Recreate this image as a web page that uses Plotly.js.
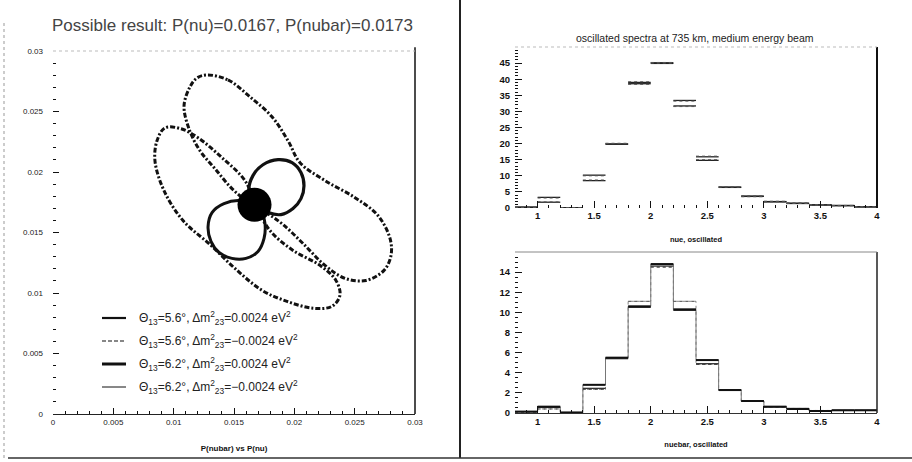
<!DOCTYPE html>
<html><head><meta charset="utf-8">
<script src="https://cdn.plot.ly/plotly-3.0.1.min.js"></script>
<style>html,body{margin:0;padding:0;background:#fff;}#chart{width:912px;height:462px;}</style>
</head><body><div id="chart"></div>
<script>
// ---------- Left panel: P(nubar) vs P(nu) ----------
const measuredNu    = [0.0167];
const measuredNubar = [0.0173];

// theta13 = 5.6 deg, dm2 = +0.0024 (small loop, lower-left of point)
const c1_nu    = [0.01682,0.01550,0.01417,0.01318,0.01285,0.01309,0.01376,0.01483,0.01599,0.01699,0.01749,0.01757,0.01732,0.01682];
const c1_nubar = [0.01723,0.01764,0.01739,0.01665,0.01549,0.01426,0.01335,0.01286,0.01286,0.01343,0.01451,0.01574,0.01665,0.01723];
// theta13 = 5.6 deg, dm2 = -0.0024 (long ellipse, lower-left)
const c2_nu    = [0.00928,0.01061,0.01202,0.01401,0.01591,0.01682,0.01798,0.01989,0.02213,0.02345,0.02378,0.02312,0.02155,0.01939,0.01732,0.01508,0.01301,0.01077,0.00920,0.00845,0.00862,0.00928];
const c2_nubar = [0.02365,0.02357,0.02283,0.02118,0.01929,0.01723,0.01516,0.01352,0.01228,0.01104,0.00981,0.00890,0.00874,0.00931,0.01022,0.01203,0.01401,0.01599,0.01846,0.02093,0.02258,0.02365];
// theta13 = 6.2 deg, dm2 = +0.0024 (small loop, upper-right of point)
const c3_nu    = [0.01682,0.01624,0.01657,0.01740,0.01865,0.01981,0.02055,0.02080,0.02055,0.01989,0.01889,0.01782,0.01682];
const c3_nubar = [0.01723,0.01846,0.01970,0.02060,0.02102,0.02077,0.01995,0.01887,0.01780,0.01698,0.01648,0.01665,0.01723];
// theta13 = 6.2 deg, dm2 = -0.0024 (long ellipse, upper-right)
const c4_nu    = [0.01276,0.01450,0.01633,0.01815,0.01948,0.02047,0.02254,0.02503,0.02693,0.02793,0.02801,0.02743,0.02594,0.02420,0.02254,0.02072,0.01906,0.01765,0.01633,0.01483,0.01343,0.01218,0.01127,0.01086,0.01135,0.01193,0.01276];
const c4_nubar = [0.02802,0.02761,0.02621,0.02456,0.02258,0.02077,0.01929,0.01788,0.01640,0.01451,0.01310,0.01187,0.01104,0.01121,0.01228,0.01409,0.01566,0.01665,0.01739,0.01863,0.02027,0.02176,0.02357,0.02547,0.02703,0.02777,0.02802];

const probTicks  = [0, 0.005, 0.01, 0.015, 0.02, 0.025, 0.03];
const probLabels = ['0', '0.005', '0.01', '0.015', '0.02', '0.025', '0.03'];

const legendLabels = [
  'Θ<sub>13</sub>=5.6°, Δm<sup>2</sup><sub>23</sub>=0.0024 eV<sup>2</sup>',
  'Θ<sub>13</sub>=5.6°, Δm<sup>2</sup><sub>23</sub>=−0.0024 eV<sup>2</sup>',
  'Θ<sub>13</sub>=6.2°, Δm<sup>2</sup><sub>23</sub>=0.0024 eV<sup>2</sup>',
  'Θ<sub>13</sub>=6.2°, Δm<sup>2</sup><sub>23</sub>=−0.0024 eV<sup>2</sup>'
];

// ---------- Right panels: oscillated spectra ----------
const binEdges = [0.8,1.0,1.2,1.4,1.6,1.8,2.0,2.2,2.4,2.6,2.8,3.0,3.2,3.4,3.6,3.8,4.0];
const nueA = [0.3, 3.3, 0.1, 10.2, 19.9, 39.0, 45.1, 33.4, 15.9, 6.5, 3.7, 2.0, 1.5, 1.0, 0.8, 0.4];
const nueB = [0.2, 1.8, 0.1,  8.5, 19.8, 38.6, 44.9, 31.7, 14.8, 6.4, 3.6, 1.9, 1.4, 0.9, 0.7, 0.3];
const nueC = [0.3, 3.1, 0.1, 10.0, 20.1, 39.2, 45.2, 33.2, 16.1, 6.6, 3.8, 2.1, 1.6, 1.0, 0.8, 0.4];
const nueD = [0.2, 1.9, 0.1,  8.7, 20.0, 38.4, 45.0, 31.5, 15.0, 6.5, 3.5, 1.9, 1.4, 0.9, 0.7, 0.3];

const nubarA = [0.13, 0.63, 0.05, 2.80, 5.50, 10.6, 14.8, 10.3, 5.26, 2.28, 1.19, 0.63, 0.40, 0.20, 0.27, 0.27];
const nubarB = [0.10, 0.40, 0.03, 2.35, 5.45, 11.1, 14.5, 11.1, 4.83, 2.30, 1.15, 0.60, 0.45, 0.25, 0.25, 0.25];
const nubarC = [0.15, 0.55, 0.05, 2.45, 5.40, 10.5, 14.6, 10.2, 4.90, 2.30, 1.20, 0.60, 0.45, 0.20, 0.27, 0.27];

const energyTicks  = [1, 1.5, 2, 2.5, 3, 3.5, 4];
const energyLabels = ['1', '1.5', '2', '2.5', '3', '3.5', '4'];
const nueTicks   = [0, 5, 10, 15, 20, 25, 30, 35, 40, 45];
const nubarTicks = [0, 2, 4, 6, 8, 10, 12, 14];

// ---------- helpers ----------
function segs(vals){ const x=[],y=[]; vals.forEach((v,i)=>{x.push(binEdges[i],binEdges[i+1],null);y.push(v,v,null);}); return {x,y}; }
function steps(vals){ return {x: binEdges.slice(), y: vals.concat([vals[vals.length-1]])}; }
const W=912, H=462;
const PX = x => x/W, PY = y => 1 - y/H;
const FAM = 'Liberation Sans, Arial, sans-serif';

const traces = [];
function curve(xs, ys, dash, width){
  traces.push({type:'scatter', mode:'lines', x:xs, y:ys, xaxis:'x', yaxis:'y',
    line:{color:'#111', width:width, dash:dash, shape:'spline', smoothing:1}, hoverinfo:'skip', showlegend:false});
}
curve(c1_nu, c1_nubar, 'solid', 3);
curve(c2_nu, c2_nubar, '5px,2px,2px,2px', 3);
curve(c3_nu, c3_nubar, 'solid', 3.2);
curve(c4_nu, c4_nubar, '5px,2px,2px,2px', 3);
traces.push({type:'scatter', mode:'markers', x:measuredNu, y:measuredNubar, xaxis:'x', yaxis:'y',
  marker:{color:'#000', size:34}, showlegend:false, hoverinfo:'skip'});

const topStyles = [
  [nueA, {color:'#222', width:1.3}],
  [nueB, {color:'#222', width:1.3}],
  [nueC, {color:'#555', width:1, dash:'dot'}],
  [nueD, {color:'#555', width:1, dash:'dot'}]
];
topStyles.forEach(([v, ln]) => { const s = segs(v);
  traces.push({type:'scatter', mode:'lines', x:s.x, y:s.y, xaxis:'x2', yaxis:'y2', line:ln, connectgaps:false, showlegend:false, hoverinfo:'skip'}); });

// bottom: thin step connectors + horizontal bin tops
[[nubarA, {color:'#666', width:0.9, shape:'hv'}], [nubarB, {color:'#777', width:0.9, dash:'dot', shape:'hv'}]].forEach(([v, ln]) => {
  const s = steps(v);
  traces.push({type:'scatter', mode:'lines', x:s.x, y:s.y, xaxis:'x3', yaxis:'y3', line:ln, showlegend:false, hoverinfo:'skip'}); });
[[nubarB, {color:'#444', width:1, dash:'dot'}], [nubarC, {color:'#333', width:1.3}], [nubarA, {color:'#111', width:2}]].forEach(([v, ln]) => {
  const s = segs(v);
  traces.push({type:'scatter', mode:'lines', x:s.x, y:s.y, xaxis:'x3', yaxis:'y3', line:ln, connectgaps:false, showlegend:false, hoverinfo:'skip'}); });

const smallFont = {family:FAM, size:8, color:'#222'};
const boldFont  = {family:FAM, size:9.5, color:'#111', weight:'bold'};
const common = {showgrid:false, zeroline:false, ticks:'inside', tickcolor:'#111', tickwidth:1, fixedrange:true};

const layout = {
  width:W, height:H, margin:{l:0,r:0,t:0,b:0}, paper_bgcolor:'#fff', plot_bgcolor:'rgba(0,0,0,0)',
  showlegend:false,
  xaxis: Object.assign({}, common, {domain:[53/W, 415/W], range:[0,0.03], anchor:'y', tickmode:'array',
    tickvals:probTicks, ticktext:probLabels, ticklen:6, tickfont:smallFont, showline:true, linecolor:'#222', linewidth:1,
    minor:{ticks:'inside', dtick:0.001, tick0:0, ticklen:3, tickcolor:'#111'},
    title:{text:'<b>P(nubar) vs P(nu)</b>', font:{family:FAM, size:8, color:'#111'}, standoff:19}}),
  yaxis: Object.assign({}, common, {domain:[1-414/H, 1-51/H], range:[0,0.03], anchor:'x', tickmode:'array',
    tickvals:probTicks, ticktext:probLabels, ticklen:6, tickfont:smallFont, showline:false, ticklabelstandoff:9,
    minor:{ticks:'inside', dtick:0.001, tick0:0, ticklen:3, tickcolor:'#111'}}),
  xaxis2: Object.assign({}, common, {domain:[515/W, 877/W], range:[0.8,4], anchor:'y2', tickmode:'array',
    tickvals:energyTicks, ticktext:energyLabels, ticklen:7, tickfont:boldFont, showline:false,
    minor:{ticks:'inside', dtick:0.1, tick0:0, ticklen:3, tickcolor:'#111'},
    title:{text:'<b>nue, oscillated</b>', font:{family:FAM, size:7.5, color:'#111'}, standoff:17}}),
  yaxis2: Object.assign({}, common, {domain:[1-208/H, 1-47/H], range:[0,50], anchor:'x2', tickmode:'array',
    tickvals:nueTicks, ticklen:7, tickfont:boldFont, showline:false, ticklabelstandoff:4,
    minor:{ticks:'inside', dtick:1, tick0:0, ticklen:3, tickcolor:'#111'}}),
  xaxis3: Object.assign({}, common, {domain:[515/W, 877/W], range:[0.8,4], anchor:'y3', tickmode:'array',
    tickvals:energyTicks, ticktext:energyLabels, ticklen:7, tickfont:boldFont, showline:true, linecolor:'#333', linewidth:1,
    minor:{ticks:'inside', dtick:0.1, tick0:0, ticklen:3, tickcolor:'#111'},
    title:{text:'<b>nuebar, oscillated</b>', font:{family:FAM, size:7.5, color:'#111'}, standoff:15}}),
  yaxis3: Object.assign({}, common, {domain:[1-413/H, 1-252/H], range:[0,16], anchor:'x3', tickmode:'array',
    tickvals:nubarTicks, ticklen:7, tickfont:boldFont, showline:false, ticklabelstandoff:4,
    minor:{ticks:'inside', dtick:0.5, tick0:0, ticklen:3, tickcolor:'#111'}}),
  annotations: [
    {text:'Possible result: P(nu)=0.0167, P(nubar)=0.0173', xref:'paper', yref:'paper', x:PX(232), y:PY(25),
     xanchor:'center', yanchor:'middle', showarrow:false, font:{family:FAM, size:17, color:'#444'}},
    {text:'oscillated spectra at 735 km, medium energy beam', xref:'paper', yref:'paper', x:PX(695), y:PY(38),
     xanchor:'center', yanchor:'middle', showarrow:false, font:{family:FAM, size:10.5, color:'#222'}}
  ].concat(legendLabels.map((t,i)=>({text:t, xref:'paper', yref:'paper', x:PX(137), y:PY(318+23*i),
     xanchor:'left', yanchor:'middle', showarrow:false, font:{family:FAM, size:12, color:'#222'}}))),
  shapes: [
    {type:'line', xref:'x domain', yref:'y domain', x0:1, x1:1, y0:0, y1:1.01, line:{color:'#111', width:1.5}},
    {type:'line', xref:'x domain', yref:'y domain', x0:0, x1:1, y0:1, y1:1, line:{color:'#bbb', width:1, dash:'dot'}},
    {type:'line', xref:'x2 domain', yref:'y2 domain', x0:1, x1:1, y0:0, y1:1, line:{color:'#111', width:2}},
    {type:'line', xref:'x2 domain', yref:'y2 domain', x0:0, x1:1, y0:1, y1:1, line:{color:'#bbb', width:1, dash:'dot'}},
    {type:'line', xref:'x3 domain', yref:'y3 domain', x0:1, x1:1, y0:0, y1:1, line:{color:'#222', width:1.5}},
    {type:'line', xref:'x3 domain', yref:'y3 domain', x0:0, x1:1, y0:1, y1:1, line:{color:'#888', width:1}},
    {type:'line', xref:'paper', yref:'paper', x0:PX(460), x1:PX(460), y0:PY(458), y1:1, line:{color:'#222', width:2}},
    {type:'line', xref:'paper', yref:'paper', x0:PX(8), x1:1, y0:PY(458), y1:PY(458), line:{color:'#333', width:1.5}},
    {type:'line', xref:'paper', yref:'paper', x0:PX(4), x1:PX(4), y0:PY(458), y1:PY(20), line:{color:'#999', width:1, dash:'dot'}},
    {type:'line', xref:'paper', yref:'paper', x0:PX(102), x1:PX(126), y0:PY(318), y1:PY(318), line:{color:'#111', width:2.2}},
    {type:'line', xref:'paper', yref:'paper', x0:PX(102), x1:PX(126), y0:PY(341), y1:PY(341), line:{color:'#111', width:1.2, dash:'4px,2px'}},
    {type:'line', xref:'paper', yref:'paper', x0:PX(102), x1:PX(126), y0:PY(364), y1:PY(364), line:{color:'#111', width:3}},
    {type:'line', xref:'paper', yref:'paper', x0:PX(102), x1:PX(126), y0:PY(387), y1:PY(387), line:{color:'#111', width:1}}
  ]
};
Plotly.newPlot('chart', traces, layout, {staticPlot:true, displayModeBar:false});
</script></body></html>
